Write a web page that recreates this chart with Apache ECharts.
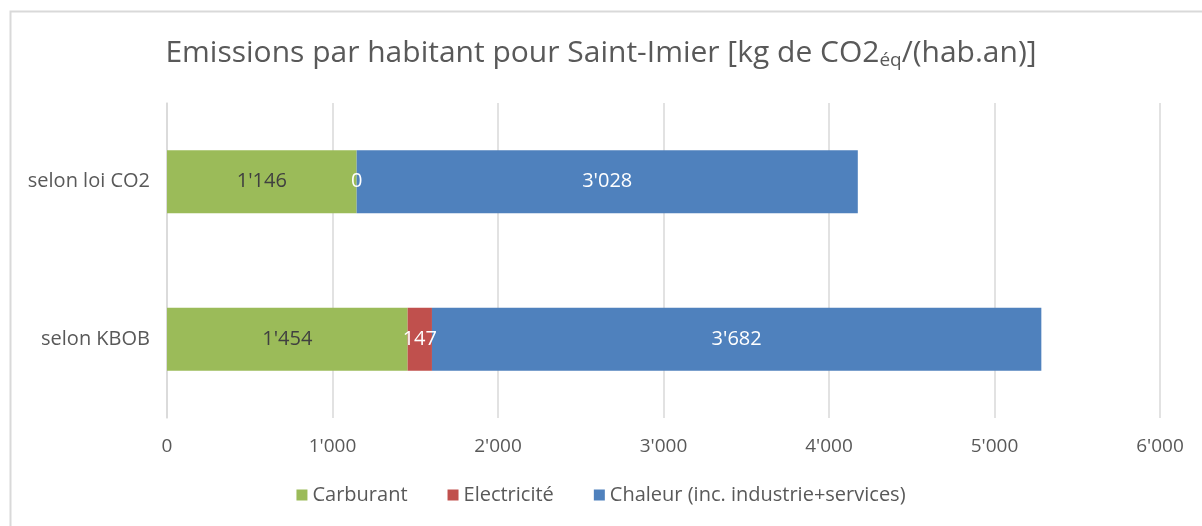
<!DOCTYPE html>
<html>
<head>
<meta charset="utf-8">
<script src="https://cdn.jsdelivr.net/npm/echarts@6/dist/echarts.min.js"></script>
<style>
  html, body { margin: 0; padding: 0; background: #fff; }
  #main { width: 1202px; height: 526px; }
</style>
</head>
<body>
<div id="main"></div>
<script>
// donnees
var categories = ['selon KBOB', 'selon loi CO2'];
var carburant = [1454, 1146];
var electricite = [147, 0];
var chaleur = [3682, 3028];
var xTicks = [0, 1000, 2000, 3000, 4000, 5000, 6000];

function fmt(v) {
  return String(Math.round(v)).replace(/\B(?=(\d{3})+(?!\d))/g, "'");
}

var myChart = echarts.init(document.getElementById('main'));
var police = '"Open Sans", "Noto Sans", sans-serif';

myChart.setOption({
  textStyle: { fontFamily: police },
  title: {
    text: '{a|Emissions par habitant pour Saint-Imier [kg de CO2}{s|éq}{a|/(hab.an)]}',
    left: 'center',
    top: 28,
    textStyle: {
      rich: {
        a: { fontSize: 30, fontWeight: 'normal', color: '#595959', fontFamily: police, lineHeight: 40 },
        s: { fontSize: 19, fontWeight: 'normal', color: '#595959', fontFamily: police, padding: [16, 0, 0, 0] }
      }
    }
  },
  graphic: [{
    type: 'rect',
    shape: { x: 10.5, y: 11.5, width: 1200, height: 520 },
    style: { fill: null, stroke: '#d9d9d9', lineWidth: 2 },
    silent: true
  }],
  legend: {
    bottom: 16,
    left: 'center',
    itemWidth: 11,
    itemHeight: 11,
    itemGap: 40,
    icon: 'rect',
    textStyle: { fontSize: 20, color: '#595959', fontFamily: police },
    data: ['Carburant', 'Electricité', 'Chaleur (inc. industrie+services)']
  },
  grid: { left: 167, right: 42, top: 103, bottom: 108 },
  xAxis: {
    type: 'value',
    min: xTicks[0],
    max: xTicks[xTicks.length - 1],
    interval: 1000,
    axisLine: { show: false },
    axisTick: { show: false },
    splitLine: { lineStyle: { color: '#d9d9d9', width: 1.5 } },
    axisLabel: { fontSize: 19, color: '#595959', margin: 19, formatter: fmt }
  },
  yAxis: {
    type: 'category',
    data: categories,
    axisLine: { show: true, lineStyle: { color: '#d9d9d9', width: 1.5 } },
    axisTick: { show: false },
    axisLabel: { fontSize: 20, color: '#595959', margin: 17 }
  },
  series: [
    {
      name: 'Carburant', type: 'bar', stack: 'tot', data: carburant,
      barWidth: '40%',
      itemStyle: { color: '#9BBB59' },
      label: { show: true, position: 'inside', fontSize: 20, color: '#404040',
        formatter: function (p) { return fmt(p.value); } }
    },
    {
      name: 'Electricité', type: 'bar', stack: 'tot', data: electricite,
      itemStyle: { color: '#C0504D' },
      label: { show: true, position: 'inside', fontSize: 20, color: '#fff',
        formatter: function (p) { return fmt(p.value); } }
    },
    {
      name: 'Chaleur (inc. industrie+services)', type: 'bar', stack: 'tot', data: chaleur,
      itemStyle: { color: '#4F81BD' },
      label: { show: true, position: 'inside', fontSize: 20, color: '#fff',
        formatter: function (p) { return fmt(p.value); } }
    }
  ]
});
</script>
</body>
</html>
